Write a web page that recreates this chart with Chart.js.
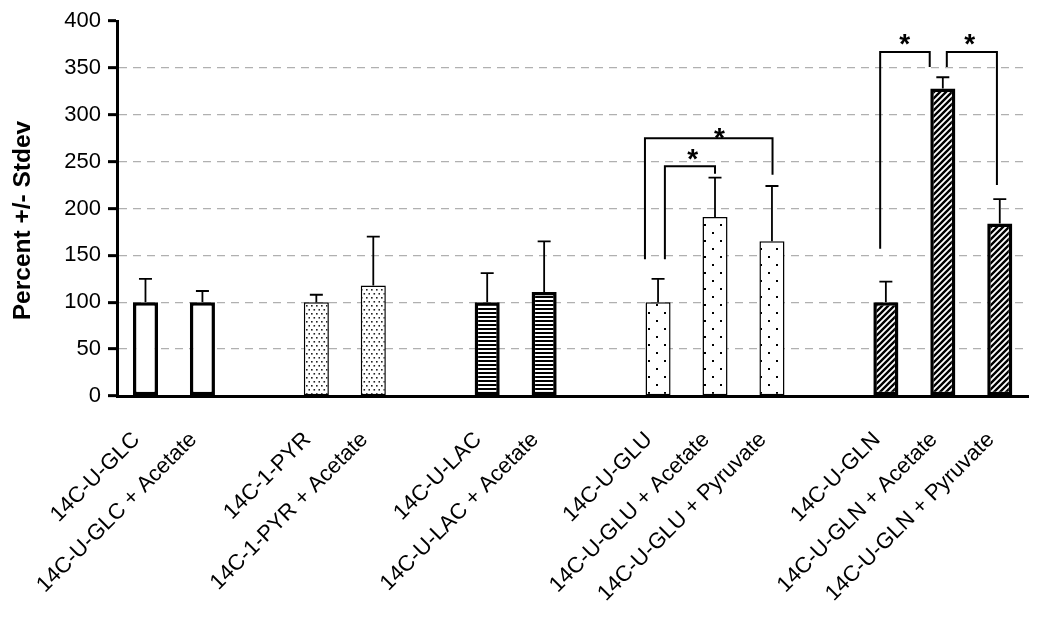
<!DOCTYPE html>
<html>
<head>
<meta charset="utf-8">
<script src="https://cdn.jsdelivr.net/npm/chart.js@4.4.1/dist/chart.umd.min.js"></script>
<style>
  html, body { margin: 0; padding: 0; background: #fff; }
</style>
</head>
<body>
<canvas id="myChart" width="1050" height="620"></canvas>
<script>
// data (empty strings / nulls are the gaps between substrate groups)
const labels = [
  "14C-U-GLC", "14C-U-GLC + Acetate", "",
  "14C-1-PYR", "14C-1-PYR + Acetate", "",
  "14C-U-LAC", "14C-U-LAC + Acetate", "",
  "14C-U-GLU", "14C-U-GLU + Acetate", "14C-U-GLU + Pyruvate", "",
  "14C-U-GLN", "14C-U-GLN + Acetate", "14C-U-GLN + Pyruvate"
];
const means  = [100, 100, null, 100, 118, null, 100, 111, null, 100, 191, 165, null, 100, 328, 184];
const stdevs = [25, 12, null, 8, 52, null, 31, 54, null, 25, 42, 59, null, 22, 12, 26];
const groups = ["GLC", "GLC", null, "PYR", "PYR", null, "LAC", "LAC", null, "GLU", "GLU", "GLU", null, "GLN", "GLN", "GLN"];
const yTicks = [0, 50, 100, 150, 200, 250, 300, 350, 400];
const yTitle = "Percent +/- Stdev";

// significance brackets: category positions (from, to), bracket top, leg ends, star
const brackets = [
  { from: 8.77, to: 11.01, top: 275, leftEnd: 146, rightEnd: 236, starAt: 10.08, starVal: 281 },
  { from: 9.12, to: 10.0, top: 245, leftEnd: 146, rightEnd: 237, starAt: 9.61, starVal: 259 },
  { from: 12.9, to: 13.77, top: 367, leftEnd: 157, rightEnd: 351, starAt: 13.33, starVal: 381 },
  { from: 14.07, to: 14.95, top: 367, leftEnd: 351, rightEnd: 225, starAt: 14.47, starVal: 381 }
];

const FONT = "'Liberation Sans', Arial, sans-serif";
const canvas = document.getElementById("myChart");
const mainCtx = canvas.getContext("2d");

// fill patterns
function makePattern(w, h, draw) {
  const c = document.createElement("canvas");
  c.width = w;
  c.height = h;
  const g = c.getContext("2d");
  g.fillStyle = "#fff";
  g.fillRect(0, 0, w, h);
  g.fillStyle = "#000";
  g.strokeStyle = "#000";
  draw(g);
  return mainCtx.createPattern(c, "repeat");
}

const fills = {
  GLC: "#fff",
  PYR: makePattern(10, 8, (g) => {
    g.fillStyle = "#222";
    g.fillRect(1, 1, 1.6, 1.6);
    g.fillRect(6, 1, 1.6, 1.6);
    g.fillRect(3.5, 5, 1.6, 1.6);
    g.fillRect(8.5, 5, 1.6, 1.6);
  }),
  LAC: makePattern(4, 4, (g) => {
    g.fillRect(0, 0, 4, 2);
  }),
  GLU: makePattern(16, 16, (g) => {
    g.fillRect(0, 0, 2, 2);
    g.fillRect(8, 8, 2, 2);
  }),
  GLN: makePattern(6, 6, (g) => {
    g.lineWidth = 2.4;
    g.beginPath();
    g.moveTo(0, 6); g.lineTo(6, 0);
    g.moveTo(-1, 1); g.lineTo(1, -1);
    g.moveTo(5, 7); g.lineTo(7, 5);
    g.stroke();
  })
};
const thick = { GLC: 3.5, PYR: 1.5, LAC: 3.5, GLU: 1.5, GLN: 3.5 };

const background = groups.map((g) => (g ? fills[g] : "#fff"));
const borders = groups.map((g) => (g ? thick[g] : 0));

// error bars (upper only)
const errorBars = {
  id: "errorBars",
  afterDatasetsDraw(chart) {
    const ctx = chart.ctx;
    const y = chart.scales.y;
    const meta = chart.getDatasetMeta(0);
    ctx.save();
    ctx.strokeStyle = "#000";
    ctx.lineWidth = 1.8;
    meta.data.forEach((bar, i) => {
      if (means[i] == null) return;
      const yTop = y.getPixelForValue(means[i] + stdevs[i]);
      ctx.beginPath();
      ctx.moveTo(bar.x, bar.y);
      ctx.lineTo(bar.x, yTop);
      ctx.moveTo(bar.x - 6.5, yTop);
      ctx.lineTo(bar.x + 6.5, yTop);
      ctx.stroke();
    });
    ctx.restore();
  }
};

// significance brackets with asterisks
const sigBrackets = {
  id: "sigBrackets",
  afterDatasetsDraw(chart) {
    const ctx = chart.ctx;
    const x = chart.scales.x;
    const y = chart.scales.y;
    const slot = x.getPixelForValue(1) - x.getPixelForValue(0);
    const px = (p) => x.getPixelForValue(0) + p * slot;
    ctx.save();
    ctx.strokeStyle = "#000";
    ctx.lineWidth = 2;
    ctx.fillStyle = "#000";
    ctx.font = "bold 28px " + FONT;
    ctx.textAlign = "center";
    ctx.textBaseline = "alphabetic";
    brackets.forEach((b) => {
      const yTop = y.getPixelForValue(b.top);
      ctx.beginPath();
      ctx.moveTo(px(b.from), y.getPixelForValue(b.leftEnd));
      ctx.lineTo(px(b.from), yTop);
      ctx.lineTo(px(b.to), yTop);
      ctx.lineTo(px(b.to), y.getPixelForValue(b.rightEnd));
      ctx.stroke();
      ctx.fillText("*", px(b.starAt), y.getPixelForValue(b.starVal) + 28 * 0.52);
    });
    ctx.restore();
  }
};

// y axis title, a little below the axis middle as in the original
const yAxisTitle = {
  id: "yAxisTitle",
  afterDraw(chart) {
    const ctx = chart.ctx;
    const area = chart.chartArea;
    ctx.save();
    ctx.translate(23, (area.top + area.bottom) / 2 + 12);
    ctx.rotate(-Math.PI / 2);
    ctx.font = "bold 24.5px " + FONT;
    ctx.fillStyle = "#000";
    ctx.textAlign = "center";
    ctx.textBaseline = "middle";
    ctx.fillText(yTitle, 0, 0);
    ctx.restore();
  }
};

Chart.defaults.font.family = FONT;
Chart.defaults.color = "#000";

const chart = new Chart(canvas, {
  type: "bar",
  data: {
    labels: labels,
    datasets: [
      {
        data: means,
        backgroundColor: background,
        borderColor: "#000",
        borderWidth: borders,
        borderSkipped: false,
        barPercentage: 0.44,
        categoryPercentage: 1.0
      }
    ]
  },
  options: {
    responsive: false,
    animation: false,
    layout: { padding: { top: 21, right: 18, left: 0, bottom: 0 } },
    plugins: {
      legend: { display: false },
      tooltip: { enabled: false }
    },
    scales: {
      x: {
        grid: { display: false, drawTicks: false },
        border: { display: true, color: "#000", width: 3 },
        ticks: {
          autoSkip: false,
          maxRotation: 45,
          minRotation: 45,
          padding: 31,
          labelOffset: -9,
          color: "#000",
          font: { size: 22 }
        },
        afterFit: (scale) => {
          scale.height = 224;
        }
      },
      y: {
        min: 0,
        max: 400,
        afterBuildTicks: (scale) => {
          scale.ticks = yTicks.map((v) => ({ value: v }));
        },
        ticks: { color: "#000", font: { size: 22 }, padding: 7 },
        grid: {
          color: (c) => (c.tick && (c.tick.value === 0 || c.tick.value === 400) ? "rgba(0,0,0,0)" : "#b0b0b0"),
          lineWidth: 1.3,
          tickColor: "#000",
          tickWidth: 3,
          tickLength: 9
        },
        border: { display: true, color: "#000", width: 3, dash: [8, 6] },
        afterFit: (scale) => {
          scale.width = 117;
        }
      }
    }
  },
  plugins: [errorBars, sigBrackets, yAxisTitle]
});
</script>
</body>
</html>
